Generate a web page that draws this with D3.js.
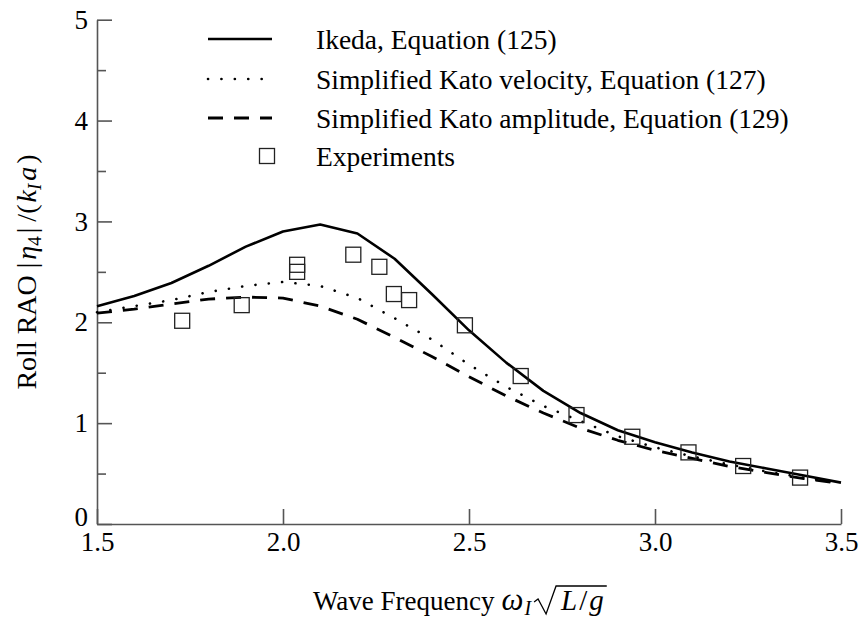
<!DOCTYPE html>
<html><head><meta charset="utf-8">
<script src="https://cdn.jsdelivr.net/npm/d3@7"></script>
<style>body{margin:0;background:#fff}svg{display:block}</style>
</head><body><svg id="c" width="862" height="622"></svg>
<script>
const freq = [1.5,1.6,1.7,1.8,1.9,2.0,2.1,2.2,2.3,2.4,2.5,2.6,2.7,2.8,2.9,3.0,3.1,3.2,3.3,3.4,3.5];
const ikeda = [2.16,2.26,2.39,2.56,2.75,2.90,2.97,2.88,2.63,2.28,1.92,1.60,1.32,1.10,0.93,0.81,0.71,0.62,0.55,0.48,0.41];
const katoVel = [2.10,2.16,2.22,2.30,2.36,2.40,2.36,2.24,2.04,1.83,1.58,1.36,1.17,1.02,0.87,0.76,0.67,0.59,0.52,0.46,0.40];
const katoAmp = [2.09,2.13,2.18,2.23,2.25,2.24,2.16,2.03,1.85,1.66,1.46,1.27,1.10,0.95,0.83,0.73,0.65,0.57,0.51,0.45,0.40];
const expFreq = [1.729,1.889,2.038,2.038,2.189,2.259,2.298,2.339,2.489,2.639,2.789,2.939,3.09,3.237,3.39];
const expVal  = [2.015,2.17,2.57,2.50,2.67,2.55,2.28,2.22,1.97,1.467,1.08,0.865,0.71,0.575,0.46];
const xTicks = [1.5,2.0,2.5,3.0,3.5];
const xTickLabels = ["1.5","2.0","2.5","3.0","3.5"];
const yTicks = [0,1,2,3,4,5];
const yMinorTicks = [0.5,1.5,2.5,3.5,4.5];
const legendLabels = ["Ikeda, Equation (125)","Simplified Kato velocity, Equation (127)","Simplified Kato amplitude, Equation (129)","Experiments"];

const FONT = '"Liberation Serif", "Times New Roman", Times, "DejaVu Serif", serif';
const svg = d3.select("#c");
const x = d3.scaleLinear().domain([1.5,3.5]).range([97,841]);
const y = d3.scaleLinear().domain([0,5]).range([524,19.7]);
const FS = 27;
const axisColor = "#555";

// axes
const gx = svg.append("g").attr("transform","translate(0,524)")
  .call(d3.axisBottom(x).tickValues(xTicks).tickFormat((d,i)=>xTickLabels[i]).tickSize(-15).tickSizeOuter(0).tickPadding(8));
const gy = svg.append("g").attr("transform","translate(97,0)")
  .call(d3.axisLeft(y).tickValues(yTicks).tickFormat(d3.format("d")).tickSize(-15).tickSizeOuter(0).tickPadding(9));
const gym = svg.append("g").attr("transform","translate(97,0)")
  .call(d3.axisLeft(y).tickValues(yMinorTicks).tickFormat("").tickSize(-9).tickSizeOuter(0));
[gx,gy,gym].forEach(g=>{
  g.attr("font-family",FONT).attr("font-size",FS);
  g.selectAll("path,line").attr("stroke",axisColor).attr("stroke-width",1.6);
  g.selectAll("text").attr("fill","#000");
});
gym.select("path").remove();
gy.selectAll(".tick text").filter(d=>d===0).attr("dy","0.05em");

// lines
const mk = vals => d3.line().x((d,i)=>x(freq[i])).y(d=>y(d))(vals);
const styles = [
  {vals:ikeda, w:2.6, dash:null, cap:"butt"},
  {vals:katoVel, w:2.6, dash:"0.1,13.3", cap:"round"},
  {vals:katoAmp, w:2.8, dash:"15,11", cap:"butt"}
];
styles.forEach(s=>{
  svg.append("path").attr("d",mk(s.vals)).attr("fill","none").attr("stroke","#000")
    .attr("stroke-width",s.w).attr("stroke-dasharray",s.dash).attr("stroke-linecap",s.cap).attr("stroke-linejoin","round");
});

// experiment squares
const sq = 15;
svg.append("g").selectAll("rect").data(expVal).join("rect")
  .attr("x",(d,i)=>x(expFreq[i])-sq/2).attr("y",d=>y(d)-sq/2)
  .attr("width",sq).attr("height",sq).attr("fill","none").attr("stroke","#222").attr("stroke-width",1.3);

// legend
const ly = [39,79,118,156];
styles.forEach((s,i)=>{
  svg.append("line").attr("x1",208).attr("x2",272).attr("y1",ly[i]).attr("y2",ly[i])
    .attr("stroke","#000").attr("stroke-width",s.w).attr("stroke-dasharray",s.dash).attr("stroke-linecap",s.cap);
});
svg.append("rect").attr("x",266.5-sq/2+0.5).attr("y",ly[3]-sq/2).attr("width",sq).attr("height",sq)
  .attr("fill","none").attr("stroke","#222").attr("stroke-width",1.3);
legendLabels.forEach((t,i)=>{
  svg.append("text").attr("x",316).attr("y",ly[i]).attr("dy","0.35em").attr("font-size",27.5)
    .attr("font-family",FONT).text(t);
});

// y title
const yt = svg.append("text").attr("transform","translate(36,272) rotate(-90)")
  .attr("text-anchor","middle").attr("font-size",28).attr("font-family",FONT);
yt.append("tspan").text("Roll RAO |");
yt.append("tspan").attr("font-style","italic").attr("dx",3).text("η");
yt.append("tspan").attr("font-size",19).attr("dy",5).text("4");
yt.append("tspan").attr("dy",-5).attr("dx",3).text("|");
yt.append("tspan").attr("dx",6).text("/(");
yt.append("tspan").attr("font-style","italic").attr("dx",2).text("k");
yt.append("tspan").attr("font-style","italic").attr("font-size",19).attr("dy",5).text("I");
yt.append("tspan").attr("font-style","italic").attr("dy",-5).attr("dx",3).text("a");
yt.append("tspan").attr("dx",3).text(")");

// x title
let cx = 313; const by = 610;
function piece(txt, opts={}){
  const t = svg.append("text").attr("x",cx).attr("y",by+(opts.dy||0)).attr("font-size",opts.fs||FS)
    .attr("font-family",FONT).attr("font-style",opts.it?"italic":null).text(txt);
  const w = t.node().getComputedTextLength();
  const x0 = cx;
  cx += w + (opts.gap||0);
  return {t, x0, w};
}
piece("Wave Frequency",{gap:7});
piece("ω",{it:true,fs:31,gap:1});
piece("I",{it:true,fs:20,dy:5,gap:3});
const rx = cx;
cx += 27;
const l1 = piece("L",{it:true,fs:29,gap:2});
piece("/",{fs:29,gap:2});
const l3 = piece("g",{it:true,fs:29});
svg.append("path")
  .attr("d",`M${rx},${by-8} L${rx+4},${by-11} L${rx+12},${by+4} L${rx+22},${by-24} L${l3.x0+l3.w+3},${by-24}`)
  .attr("fill","none").attr("stroke","#000").attr("stroke-width",1.3).attr("stroke-linejoin","miter");
</script></body></html>
